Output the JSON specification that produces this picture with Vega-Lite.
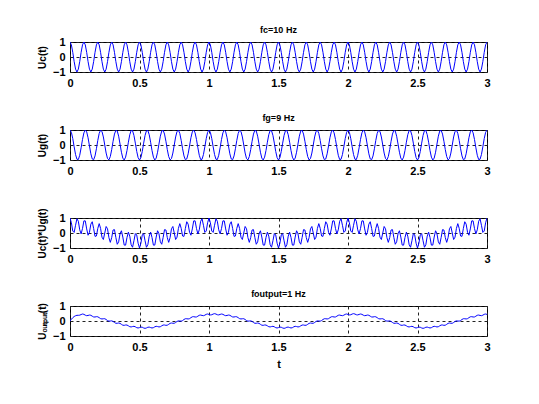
{
"$schema": "https://vega.github.io/schema/vega-lite/v6.json",
"background": "white",
"padding": {"left": 36, "top": 25, "right": 10, "bottom": 10},
"bounds": "flush",
"spacing": 58,
"config": {
  "font": "Liberation Sans",
  "view": {"stroke": "black", "strokeWidth": 1},
  "axis": {"labelFont": "Liberation Sans", "labelFontWeight": "bold", "labelFontSize": 11, "labelColor": "black", "titleFont": "Liberation Sans", "titleFontWeight": "bold", "titleColor": "black", "titleFontSize": 10, "domain": false, "ticks": false, "tickSize": 0, "labelPadding": 5, "grid": true, "gridColor": "#222222", "gridDash": [3, 3], "gridOpacity": 1, "gridWidth": 1, "labelFlush": false, "labelOverlap": false, "format": "~g"},
  "title": {"font": "Liberation Sans", "fontSize": 9, "fontWeight": "bold", "color": "black", "offset": 1}
},
"data": {"values": [
{"t":0,"uc":1,"ug":1,"um":1,"uo":0},
{"t":0.01,"uc":0.809,"ug":0.844,"um":0.683,"uo":0.12},
{"t":0.02,"uc":0.309,"ug":0.426,"um":0.132,"uo":0.22},
{"t":0.03,"uc":-0.309,"ug":-0.125,"um":0.039,"uo":0.3},
{"t":0.04,"uc":-0.809,"ug":-0.637,"um":0.515,"uo":0.35},
{"t":0.05,"uc":-1,"ug":-0.951,"um":0.951,"uo":0.38},
{"t":0.06,"uc":-0.809,"ug":-0.969,"um":0.784,"uo":0.38},
{"t":0.07,"uc":-0.309,"ug":-0.685,"um":0.212,"uo":0.39},
{"t":0.08,"uc":0.309,"ug":-0.187,"um":-0.058,"uo":0.43},
{"t":0.09,"uc":0.809,"ug":0.368,"um":0.298,"uo":0.466},
{"t":0.10,"uc":1,"ug":0.809,"um":0.809,"uo":0.444},
{"t":0.11,"uc":0.809,"ug":0.998,"um":0.807,"uo":0.388},
{"t":0.12,"uc":0.309,"ug":0.876,"um":0.271,"uo":0.354},
{"t":0.13,"uc":-0.309,"ug":0.482,"um":-0.149,"uo":0.37},
{"t":0.14,"uc":-0.809,"ug":-0.063,"um":0.051,"uo":0.396},
{"t":0.15,"uc":-1,"ug":-0.588,"um":0.588,"uo":0.381},
{"t":0.16,"uc":-0.809,"ug":-0.93,"um":0.752,"uo":0.321},
{"t":0.17,"uc":-0.309,"ug":-0.982,"um":0.303,"uo":0.269},
{"t":0.18,"uc":0.309,"ug":-0.729,"um":-0.225,"uo":0.266},
{"t":0.19,"uc":0.809,"ug":-0.249,"um":-0.201,"uo":0.289},
{"t":0.20,"uc":1,"ug":0.309,"um":0.309,"uo":0.28},
{"t":0.21,"uc":0.809,"ug":0.771,"um":0.624,"uo":0.222},
{"t":0.22,"uc":0.309,"ug":0.992,"um":0.307,"uo":0.157},
{"t":0.23,"uc":-0.309,"ug":0.905,"um":-0.28,"uo":0.135},
{"t":0.24,"uc":-0.809,"ug":0.536,"um":-0.434,"uo":0.151},
{"t":0.25,"uc":-1,"ug":0,"um":0,"uo":0.152},
{"t":0.26,"uc":-0.809,"ug":-0.536,"um":0.434,"uo":0.101},
{"t":0.27,"uc":-0.309,"ug":-0.905,"um":0.28,"uo":0.029},
{"t":0.28,"uc":0.309,"ug":-0.992,"um":-0.307,"uo":-0.009},
{"t":0.29,"uc":0.809,"ug":-0.771,"um":-0.624,"uo":0},
{"t":0.30,"uc":1,"ug":-0.309,"um":-0.309,"uo":0.009},
{"t":0.31,"uc":0.809,"ug":0.249,"um":0.201,"uo":-0.029},
{"t":0.32,"uc":0.309,"ug":0.729,"um":0.225,"uo":-0.101},
{"t":0.33,"uc":-0.309,"ug":0.982,"um":-0.303,"uo":-0.152},
{"t":0.34,"uc":-0.809,"ug":0.93,"um":-0.752,"uo":-0.151},
{"t":0.35,"uc":-1,"ug":0.588,"um":-0.588,"uo":-0.135},
{"t":0.36,"uc":-0.809,"ug":0.063,"um":-0.051,"uo":-0.157},
{"t":0.37,"uc":-0.309,"ug":-0.482,"um":0.149,"uo":-0.222},
{"t":0.38,"uc":0.309,"ug":-0.876,"um":-0.271,"uo":-0.28},
{"t":0.39,"uc":0.809,"ug":-0.998,"um":-0.807,"uo":-0.289},
{"t":0.40,"uc":1,"ug":-0.809,"um":-0.809,"uo":-0.266},
{"t":0.41,"uc":0.809,"ug":-0.368,"um":-0.298,"uo":-0.269},
{"t":0.42,"uc":0.309,"ug":0.187,"um":0.058,"uo":-0.321},
{"t":0.43,"uc":-0.309,"ug":0.685,"um":-0.212,"uo":-0.381},
{"t":0.44,"uc":-0.809,"ug":0.969,"um":-0.784,"uo":-0.396},
{"t":0.45,"uc":-1,"ug":0.951,"um":-0.951,"uo":-0.37},
{"t":0.46,"uc":-0.809,"ug":0.637,"um":-0.515,"uo":-0.354},
{"t":0.47,"uc":-0.309,"ug":0.125,"um":-0.039,"uo":-0.388},
{"t":0.48,"uc":0.309,"ug":-0.426,"um":-0.132,"uo":-0.444},
{"t":0.49,"uc":0.809,"ug":-0.844,"um":-0.683,"uo":-0.466},
{"t":0.50,"uc":1,"ug":-1,"um":-1,"uo":-0.439},
{"t":0.51,"uc":0.809,"ug":-0.844,"um":-0.683,"uo":-0.406},
{"t":0.52,"uc":0.309,"ug":-0.426,"um":-0.132,"uo":-0.417},
{"t":0.53,"uc":-0.309,"ug":0.125,"um":-0.039,"uo":-0.464},
{"t":0.54,"uc":-0.809,"ug":0.637,"um":-0.515,"uo":-0.49},
{"t":0.55,"uc":-1,"ug":0.951,"um":-0.951,"uo":-0.464},
{"t":0.56,"uc":-0.809,"ug":0.969,"um":-0.784,"uo":-0.417},
{"t":0.57,"uc":-0.309,"ug":0.685,"um":-0.212,"uo":-0.406},
{"t":0.58,"uc":0.309,"ug":0.187,"um":0.058,"uo":-0.439},
{"t":0.59,"uc":0.809,"ug":-0.368,"um":-0.298,"uo":-0.466},
{"t":0.60,"uc":1,"ug":-0.809,"um":-0.809,"uo":-0.444},
{"t":0.61,"uc":0.809,"ug":-0.998,"um":-0.807,"uo":-0.388},
{"t":0.62,"uc":0.309,"ug":-0.876,"um":-0.271,"uo":-0.354},
{"t":0.63,"uc":-0.309,"ug":-0.482,"um":0.149,"uo":-0.37},
{"t":0.64,"uc":-0.809,"ug":0.063,"um":-0.051,"uo":-0.396},
{"t":0.65,"uc":-1,"ug":0.588,"um":-0.588,"uo":-0.381},
{"t":0.66,"uc":-0.809,"ug":0.93,"um":-0.752,"uo":-0.321},
{"t":0.67,"uc":-0.309,"ug":0.982,"um":-0.303,"uo":-0.269},
{"t":0.68,"uc":0.309,"ug":0.729,"um":0.225,"uo":-0.266},
{"t":0.69,"uc":0.809,"ug":0.249,"um":0.201,"uo":-0.289},
{"t":0.70,"uc":1,"ug":-0.309,"um":-0.309,"uo":-0.28},
{"t":0.71,"uc":0.809,"ug":-0.771,"um":-0.624,"uo":-0.222},
{"t":0.72,"uc":0.309,"ug":-0.992,"um":-0.307,"uo":-0.157},
{"t":0.73,"uc":-0.309,"ug":-0.905,"um":0.28,"uo":-0.135},
{"t":0.74,"uc":-0.809,"ug":-0.536,"um":0.434,"uo":-0.151},
{"t":0.75,"uc":-1,"ug":0,"um":0,"uo":-0.152},
{"t":0.76,"uc":-0.809,"ug":0.536,"um":-0.434,"uo":-0.101},
{"t":0.77,"uc":-0.309,"ug":0.905,"um":-0.28,"uo":-0.029},
{"t":0.78,"uc":0.309,"ug":0.992,"um":0.307,"uo":0.009},
{"t":0.79,"uc":0.809,"ug":0.771,"um":0.624,"uo":0},
{"t":0.80,"uc":1,"ug":0.309,"um":0.309,"uo":-0.009},
{"t":0.81,"uc":0.809,"ug":-0.249,"um":-0.201,"uo":0.029},
{"t":0.82,"uc":0.309,"ug":-0.729,"um":-0.225,"uo":0.101},
{"t":0.83,"uc":-0.309,"ug":-0.982,"um":0.303,"uo":0.152},
{"t":0.84,"uc":-0.809,"ug":-0.93,"um":0.752,"uo":0.151},
{"t":0.85,"uc":-1,"ug":-0.588,"um":0.588,"uo":0.135},
{"t":0.86,"uc":-0.809,"ug":-0.063,"um":0.051,"uo":0.157},
{"t":0.87,"uc":-0.309,"ug":0.482,"um":-0.149,"uo":0.222},
{"t":0.88,"uc":0.309,"ug":0.876,"um":0.271,"uo":0.28},
{"t":0.89,"uc":0.809,"ug":0.998,"um":0.807,"uo":0.289},
{"t":0.90,"uc":1,"ug":0.809,"um":0.809,"uo":0.266},
{"t":0.91,"uc":0.809,"ug":0.368,"um":0.298,"uo":0.269},
{"t":0.92,"uc":0.309,"ug":-0.187,"um":-0.058,"uo":0.321},
{"t":0.93,"uc":-0.309,"ug":-0.685,"um":0.212,"uo":0.381},
{"t":0.94,"uc":-0.809,"ug":-0.969,"um":0.784,"uo":0.396},
{"t":0.95,"uc":-1,"ug":-0.951,"um":0.951,"uo":0.37},
{"t":0.96,"uc":-0.809,"ug":-0.637,"um":0.515,"uo":0.354},
{"t":0.97,"uc":-0.309,"ug":-0.125,"um":0.039,"uo":0.388},
{"t":0.98,"uc":0.309,"ug":0.426,"um":0.132,"uo":0.444},
{"t":0.99,"uc":0.809,"ug":0.844,"um":0.683,"uo":0.466},
{"t":1.00,"uc":1,"ug":1,"um":1,"uo":0.439},
{"t":1.01,"uc":0.809,"ug":0.844,"um":0.683,"uo":0.406},
{"t":1.02,"uc":0.309,"ug":0.426,"um":0.132,"uo":0.417},
{"t":1.03,"uc":-0.309,"ug":-0.125,"um":0.039,"uo":0.464},
{"t":1.04,"uc":-0.809,"ug":-0.637,"um":0.515,"uo":0.49},
{"t":1.05,"uc":-1,"ug":-0.951,"um":0.951,"uo":0.464},
{"t":1.06,"uc":-0.809,"ug":-0.969,"um":0.784,"uo":0.417},
{"t":1.07,"uc":-0.309,"ug":-0.685,"um":0.212,"uo":0.406},
{"t":1.08,"uc":0.309,"ug":-0.187,"um":-0.058,"uo":0.439},
{"t":1.09,"uc":0.809,"ug":0.368,"um":0.298,"uo":0.466},
{"t":1.10,"uc":1,"ug":0.809,"um":0.809,"uo":0.444},
{"t":1.11,"uc":0.809,"ug":0.998,"um":0.807,"uo":0.388},
{"t":1.12,"uc":0.309,"ug":0.876,"um":0.271,"uo":0.354},
{"t":1.13,"uc":-0.309,"ug":0.482,"um":-0.149,"uo":0.37},
{"t":1.14,"uc":-0.809,"ug":-0.063,"um":0.051,"uo":0.396},
{"t":1.15,"uc":-1,"ug":-0.588,"um":0.588,"uo":0.381},
{"t":1.16,"uc":-0.809,"ug":-0.93,"um":0.752,"uo":0.321},
{"t":1.17,"uc":-0.309,"ug":-0.982,"um":0.303,"uo":0.269},
{"t":1.18,"uc":0.309,"ug":-0.729,"um":-0.225,"uo":0.266},
{"t":1.19,"uc":0.809,"ug":-0.249,"um":-0.201,"uo":0.289},
{"t":1.20,"uc":1,"ug":0.309,"um":0.309,"uo":0.28},
{"t":1.21,"uc":0.809,"ug":0.771,"um":0.624,"uo":0.222},
{"t":1.22,"uc":0.309,"ug":0.992,"um":0.307,"uo":0.157},
{"t":1.23,"uc":-0.309,"ug":0.905,"um":-0.28,"uo":0.135},
{"t":1.24,"uc":-0.809,"ug":0.536,"um":-0.434,"uo":0.151},
{"t":1.25,"uc":-1,"ug":0,"um":0,"uo":0.152},
{"t":1.26,"uc":-0.809,"ug":-0.536,"um":0.434,"uo":0.101},
{"t":1.27,"uc":-0.309,"ug":-0.905,"um":0.28,"uo":0.029},
{"t":1.28,"uc":0.309,"ug":-0.992,"um":-0.307,"uo":-0.009},
{"t":1.29,"uc":0.809,"ug":-0.771,"um":-0.624,"uo":0},
{"t":1.30,"uc":1,"ug":-0.309,"um":-0.309,"uo":0.009},
{"t":1.31,"uc":0.809,"ug":0.249,"um":0.201,"uo":-0.029},
{"t":1.32,"uc":0.309,"ug":0.729,"um":0.225,"uo":-0.101},
{"t":1.33,"uc":-0.309,"ug":0.982,"um":-0.303,"uo":-0.152},
{"t":1.34,"uc":-0.809,"ug":0.93,"um":-0.752,"uo":-0.151},
{"t":1.35,"uc":-1,"ug":0.588,"um":-0.588,"uo":-0.135},
{"t":1.36,"uc":-0.809,"ug":0.063,"um":-0.051,"uo":-0.157},
{"t":1.37,"uc":-0.309,"ug":-0.482,"um":0.149,"uo":-0.222},
{"t":1.38,"uc":0.309,"ug":-0.876,"um":-0.271,"uo":-0.28},
{"t":1.39,"uc":0.809,"ug":-0.998,"um":-0.807,"uo":-0.289},
{"t":1.40,"uc":1,"ug":-0.809,"um":-0.809,"uo":-0.266},
{"t":1.41,"uc":0.809,"ug":-0.368,"um":-0.298,"uo":-0.269},
{"t":1.42,"uc":0.309,"ug":0.187,"um":0.058,"uo":-0.321},
{"t":1.43,"uc":-0.309,"ug":0.685,"um":-0.212,"uo":-0.381},
{"t":1.44,"uc":-0.809,"ug":0.969,"um":-0.784,"uo":-0.396},
{"t":1.45,"uc":-1,"ug":0.951,"um":-0.951,"uo":-0.37},
{"t":1.46,"uc":-0.809,"ug":0.637,"um":-0.515,"uo":-0.354},
{"t":1.47,"uc":-0.309,"ug":0.125,"um":-0.039,"uo":-0.388},
{"t":1.48,"uc":0.309,"ug":-0.426,"um":-0.132,"uo":-0.444},
{"t":1.49,"uc":0.809,"ug":-0.844,"um":-0.683,"uo":-0.466},
{"t":1.50,"uc":1,"ug":-1,"um":-1,"uo":-0.439},
{"t":1.51,"uc":0.809,"ug":-0.844,"um":-0.683,"uo":-0.406},
{"t":1.52,"uc":0.309,"ug":-0.426,"um":-0.132,"uo":-0.417},
{"t":1.53,"uc":-0.309,"ug":0.125,"um":-0.039,"uo":-0.464},
{"t":1.54,"uc":-0.809,"ug":0.637,"um":-0.515,"uo":-0.49},
{"t":1.55,"uc":-1,"ug":0.951,"um":-0.951,"uo":-0.464},
{"t":1.56,"uc":-0.809,"ug":0.969,"um":-0.784,"uo":-0.417},
{"t":1.57,"uc":-0.309,"ug":0.685,"um":-0.212,"uo":-0.406},
{"t":1.58,"uc":0.309,"ug":0.187,"um":0.058,"uo":-0.439},
{"t":1.59,"uc":0.809,"ug":-0.368,"um":-0.298,"uo":-0.466},
{"t":1.60,"uc":1,"ug":-0.809,"um":-0.809,"uo":-0.444},
{"t":1.61,"uc":0.809,"ug":-0.998,"um":-0.807,"uo":-0.388},
{"t":1.62,"uc":0.309,"ug":-0.876,"um":-0.271,"uo":-0.354},
{"t":1.63,"uc":-0.309,"ug":-0.482,"um":0.149,"uo":-0.37},
{"t":1.64,"uc":-0.809,"ug":0.063,"um":-0.051,"uo":-0.396},
{"t":1.65,"uc":-1,"ug":0.588,"um":-0.588,"uo":-0.381},
{"t":1.66,"uc":-0.809,"ug":0.93,"um":-0.752,"uo":-0.321},
{"t":1.67,"uc":-0.309,"ug":0.982,"um":-0.303,"uo":-0.269},
{"t":1.68,"uc":0.309,"ug":0.729,"um":0.225,"uo":-0.266},
{"t":1.69,"uc":0.809,"ug":0.249,"um":0.201,"uo":-0.289},
{"t":1.70,"uc":1,"ug":-0.309,"um":-0.309,"uo":-0.28},
{"t":1.71,"uc":0.809,"ug":-0.771,"um":-0.624,"uo":-0.222},
{"t":1.72,"uc":0.309,"ug":-0.992,"um":-0.307,"uo":-0.157},
{"t":1.73,"uc":-0.309,"ug":-0.905,"um":0.28,"uo":-0.135},
{"t":1.74,"uc":-0.809,"ug":-0.536,"um":0.434,"uo":-0.151},
{"t":1.75,"uc":-1,"ug":0,"um":0,"uo":-0.152},
{"t":1.76,"uc":-0.809,"ug":0.536,"um":-0.434,"uo":-0.101},
{"t":1.77,"uc":-0.309,"ug":0.905,"um":-0.28,"uo":-0.029},
{"t":1.78,"uc":0.309,"ug":0.992,"um":0.307,"uo":0.009},
{"t":1.79,"uc":0.809,"ug":0.771,"um":0.624,"uo":0},
{"t":1.80,"uc":1,"ug":0.309,"um":0.309,"uo":-0.009},
{"t":1.81,"uc":0.809,"ug":-0.249,"um":-0.201,"uo":0.029},
{"t":1.82,"uc":0.309,"ug":-0.729,"um":-0.225,"uo":0.101},
{"t":1.83,"uc":-0.309,"ug":-0.982,"um":0.303,"uo":0.152},
{"t":1.84,"uc":-0.809,"ug":-0.93,"um":0.752,"uo":0.151},
{"t":1.85,"uc":-1,"ug":-0.588,"um":0.588,"uo":0.135},
{"t":1.86,"uc":-0.809,"ug":-0.063,"um":0.051,"uo":0.157},
{"t":1.87,"uc":-0.309,"ug":0.482,"um":-0.149,"uo":0.222},
{"t":1.88,"uc":0.309,"ug":0.876,"um":0.271,"uo":0.28},
{"t":1.89,"uc":0.809,"ug":0.998,"um":0.807,"uo":0.289},
{"t":1.90,"uc":1,"ug":0.809,"um":0.809,"uo":0.266},
{"t":1.91,"uc":0.809,"ug":0.368,"um":0.298,"uo":0.269},
{"t":1.92,"uc":0.309,"ug":-0.187,"um":-0.058,"uo":0.321},
{"t":1.93,"uc":-0.309,"ug":-0.685,"um":0.212,"uo":0.381},
{"t":1.94,"uc":-0.809,"ug":-0.969,"um":0.784,"uo":0.396},
{"t":1.95,"uc":-1,"ug":-0.951,"um":0.951,"uo":0.37},
{"t":1.96,"uc":-0.809,"ug":-0.637,"um":0.515,"uo":0.354},
{"t":1.97,"uc":-0.309,"ug":-0.125,"um":0.039,"uo":0.388},
{"t":1.98,"uc":0.309,"ug":0.426,"um":0.132,"uo":0.444},
{"t":1.99,"uc":0.809,"ug":0.844,"um":0.683,"uo":0.466},
{"t":2.00,"uc":1,"ug":1,"um":1,"uo":0.439},
{"t":2.01,"uc":0.809,"ug":0.844,"um":0.683,"uo":0.406},
{"t":2.02,"uc":0.309,"ug":0.426,"um":0.132,"uo":0.417},
{"t":2.03,"uc":-0.309,"ug":-0.125,"um":0.039,"uo":0.464},
{"t":2.04,"uc":-0.809,"ug":-0.637,"um":0.515,"uo":0.49},
{"t":2.05,"uc":-1,"ug":-0.951,"um":0.951,"uo":0.464},
{"t":2.06,"uc":-0.809,"ug":-0.969,"um":0.784,"uo":0.417},
{"t":2.07,"uc":-0.309,"ug":-0.685,"um":0.212,"uo":0.406},
{"t":2.08,"uc":0.309,"ug":-0.187,"um":-0.058,"uo":0.439},
{"t":2.09,"uc":0.809,"ug":0.368,"um":0.298,"uo":0.466},
{"t":2.10,"uc":1,"ug":0.809,"um":0.809,"uo":0.444},
{"t":2.11,"uc":0.809,"ug":0.998,"um":0.807,"uo":0.388},
{"t":2.12,"uc":0.309,"ug":0.876,"um":0.271,"uo":0.354},
{"t":2.13,"uc":-0.309,"ug":0.482,"um":-0.149,"uo":0.37},
{"t":2.14,"uc":-0.809,"ug":-0.063,"um":0.051,"uo":0.396},
{"t":2.15,"uc":-1,"ug":-0.588,"um":0.588,"uo":0.381},
{"t":2.16,"uc":-0.809,"ug":-0.93,"um":0.752,"uo":0.321},
{"t":2.17,"uc":-0.309,"ug":-0.982,"um":0.303,"uo":0.269},
{"t":2.18,"uc":0.309,"ug":-0.729,"um":-0.225,"uo":0.266},
{"t":2.19,"uc":0.809,"ug":-0.249,"um":-0.201,"uo":0.289},
{"t":2.20,"uc":1,"ug":0.309,"um":0.309,"uo":0.28},
{"t":2.21,"uc":0.809,"ug":0.771,"um":0.624,"uo":0.222},
{"t":2.22,"uc":0.309,"ug":0.992,"um":0.307,"uo":0.157},
{"t":2.23,"uc":-0.309,"ug":0.905,"um":-0.28,"uo":0.135},
{"t":2.24,"uc":-0.809,"ug":0.536,"um":-0.434,"uo":0.151},
{"t":2.25,"uc":-1,"ug":0,"um":0,"uo":0.152},
{"t":2.26,"uc":-0.809,"ug":-0.536,"um":0.434,"uo":0.101},
{"t":2.27,"uc":-0.309,"ug":-0.905,"um":0.28,"uo":0.029},
{"t":2.28,"uc":0.309,"ug":-0.992,"um":-0.307,"uo":-0.009},
{"t":2.29,"uc":0.809,"ug":-0.771,"um":-0.624,"uo":0},
{"t":2.30,"uc":1,"ug":-0.309,"um":-0.309,"uo":0.009},
{"t":2.31,"uc":0.809,"ug":0.249,"um":0.201,"uo":-0.029},
{"t":2.32,"uc":0.309,"ug":0.729,"um":0.225,"uo":-0.101},
{"t":2.33,"uc":-0.309,"ug":0.982,"um":-0.303,"uo":-0.152},
{"t":2.34,"uc":-0.809,"ug":0.93,"um":-0.752,"uo":-0.151},
{"t":2.35,"uc":-1,"ug":0.588,"um":-0.588,"uo":-0.135},
{"t":2.36,"uc":-0.809,"ug":0.063,"um":-0.051,"uo":-0.157},
{"t":2.37,"uc":-0.309,"ug":-0.482,"um":0.149,"uo":-0.222},
{"t":2.38,"uc":0.309,"ug":-0.876,"um":-0.271,"uo":-0.28},
{"t":2.39,"uc":0.809,"ug":-0.998,"um":-0.807,"uo":-0.289},
{"t":2.40,"uc":1,"ug":-0.809,"um":-0.809,"uo":-0.266},
{"t":2.41,"uc":0.809,"ug":-0.368,"um":-0.298,"uo":-0.269},
{"t":2.42,"uc":0.309,"ug":0.187,"um":0.058,"uo":-0.321},
{"t":2.43,"uc":-0.309,"ug":0.685,"um":-0.212,"uo":-0.381},
{"t":2.44,"uc":-0.809,"ug":0.969,"um":-0.784,"uo":-0.396},
{"t":2.45,"uc":-1,"ug":0.951,"um":-0.951,"uo":-0.37},
{"t":2.46,"uc":-0.809,"ug":0.637,"um":-0.515,"uo":-0.354},
{"t":2.47,"uc":-0.309,"ug":0.125,"um":-0.039,"uo":-0.388},
{"t":2.48,"uc":0.309,"ug":-0.426,"um":-0.132,"uo":-0.444},
{"t":2.49,"uc":0.809,"ug":-0.844,"um":-0.683,"uo":-0.466},
{"t":2.50,"uc":1,"ug":-1,"um":-1,"uo":-0.439},
{"t":2.51,"uc":0.809,"ug":-0.844,"um":-0.683,"uo":-0.406},
{"t":2.52,"uc":0.309,"ug":-0.426,"um":-0.132,"uo":-0.417},
{"t":2.53,"uc":-0.309,"ug":0.125,"um":-0.039,"uo":-0.464},
{"t":2.54,"uc":-0.809,"ug":0.637,"um":-0.515,"uo":-0.49},
{"t":2.55,"uc":-1,"ug":0.951,"um":-0.951,"uo":-0.464},
{"t":2.56,"uc":-0.809,"ug":0.969,"um":-0.784,"uo":-0.417},
{"t":2.57,"uc":-0.309,"ug":0.685,"um":-0.212,"uo":-0.406},
{"t":2.58,"uc":0.309,"ug":0.187,"um":0.058,"uo":-0.439},
{"t":2.59,"uc":0.809,"ug":-0.368,"um":-0.298,"uo":-0.466},
{"t":2.60,"uc":1,"ug":-0.809,"um":-0.809,"uo":-0.444},
{"t":2.61,"uc":0.809,"ug":-0.998,"um":-0.807,"uo":-0.388},
{"t":2.62,"uc":0.309,"ug":-0.876,"um":-0.271,"uo":-0.354},
{"t":2.63,"uc":-0.309,"ug":-0.482,"um":0.149,"uo":-0.37},
{"t":2.64,"uc":-0.809,"ug":0.063,"um":-0.051,"uo":-0.396},
{"t":2.65,"uc":-1,"ug":0.588,"um":-0.588,"uo":-0.381},
{"t":2.66,"uc":-0.809,"ug":0.93,"um":-0.752,"uo":-0.321},
{"t":2.67,"uc":-0.309,"ug":0.982,"um":-0.303,"uo":-0.269},
{"t":2.68,"uc":0.309,"ug":0.729,"um":0.225,"uo":-0.266},
{"t":2.69,"uc":0.809,"ug":0.249,"um":0.201,"uo":-0.289},
{"t":2.70,"uc":1,"ug":-0.309,"um":-0.309,"uo":-0.28},
{"t":2.71,"uc":0.809,"ug":-0.771,"um":-0.624,"uo":-0.222},
{"t":2.72,"uc":0.309,"ug":-0.992,"um":-0.307,"uo":-0.157},
{"t":2.73,"uc":-0.309,"ug":-0.905,"um":0.28,"uo":-0.135},
{"t":2.74,"uc":-0.809,"ug":-0.536,"um":0.434,"uo":-0.151},
{"t":2.75,"uc":-1,"ug":0,"um":0,"uo":-0.152},
{"t":2.76,"uc":-0.809,"ug":0.536,"um":-0.434,"uo":-0.101},
{"t":2.77,"uc":-0.309,"ug":0.905,"um":-0.28,"uo":-0.029},
{"t":2.78,"uc":0.309,"ug":0.992,"um":0.307,"uo":0.009},
{"t":2.79,"uc":0.809,"ug":0.771,"um":0.624,"uo":0},
{"t":2.80,"uc":1,"ug":0.309,"um":0.309,"uo":-0.009},
{"t":2.81,"uc":0.809,"ug":-0.249,"um":-0.201,"uo":0.029},
{"t":2.82,"uc":0.309,"ug":-0.729,"um":-0.225,"uo":0.101},
{"t":2.83,"uc":-0.309,"ug":-0.982,"um":0.303,"uo":0.152},
{"t":2.84,"uc":-0.809,"ug":-0.93,"um":0.752,"uo":0.151},
{"t":2.85,"uc":-1,"ug":-0.588,"um":0.588,"uo":0.135},
{"t":2.86,"uc":-0.809,"ug":-0.063,"um":0.051,"uo":0.157},
{"t":2.87,"uc":-0.309,"ug":0.482,"um":-0.149,"uo":0.222},
{"t":2.88,"uc":0.309,"ug":0.876,"um":0.271,"uo":0.28},
{"t":2.89,"uc":0.809,"ug":0.998,"um":0.807,"uo":0.289},
{"t":2.90,"uc":1,"ug":0.809,"um":0.809,"uo":0.266},
{"t":2.91,"uc":0.809,"ug":0.368,"um":0.298,"uo":0.269},
{"t":2.92,"uc":0.309,"ug":-0.187,"um":-0.058,"uo":0.321},
{"t":2.93,"uc":-0.309,"ug":-0.685,"um":0.212,"uo":0.381},
{"t":2.94,"uc":-0.809,"ug":-0.969,"um":0.784,"uo":0.396},
{"t":2.95,"uc":-1,"ug":-0.951,"um":0.951,"uo":0.37},
{"t":2.96,"uc":-0.809,"ug":-0.637,"um":0.515,"uo":0.354},
{"t":2.97,"uc":-0.309,"ug":-0.125,"um":0.039,"uo":0.388},
{"t":2.98,"uc":0.309,"ug":0.426,"um":0.132,"uo":0.444},
{"t":2.99,"uc":0.809,"ug":0.844,"um":0.683,"uo":0.466},
{"t":3.00,"uc":1,"ug":1,"um":1,"uo":0.439}
]},
"vconcat": [
  {
    "width": 417, "height": 30,
    "title": "fc=10 Hz",
    "mark": {"type": "line", "color": "#0000ff", "strokeWidth": 1, "clip": true},
    "encoding": {
      "x": {"field": "t", "type": "quantitative", "scale": {"domain": [0, 3], "nice": false, "zero": false}, "axis": {"values": [0, 0.5, 1, 1.5, 2, 2.5, 3], "format": "~g", "title": null}},
      "y": {"field": "uc", "type": "quantitative", "scale": {"domain": [-1, 1], "nice": false}, "axis": {"values": [-1, 0, 1], "format": "~g", "title": "Uc(t)", "titlePadding": 5}}
    }
  },
  {
    "width": 417, "height": 30,
    "title": "fg=9  Hz",
    "mark": {"type": "line", "color": "#0000ff", "strokeWidth": 1, "clip": true},
    "encoding": {
      "x": {"field": "t", "type": "quantitative", "scale": {"domain": [0, 3], "nice": false, "zero": false}, "axis": {"values": [0, 0.5, 1, 1.5, 2, 2.5, 3], "format": "~g", "title": null}},
      "y": {"field": "ug", "type": "quantitative", "scale": {"domain": [-1, 1], "nice": false}, "axis": {"values": [-1, 0, 1], "format": "~g", "title": "Ug(t)", "titlePadding": 5}}
    }
  },
  {
    "width": 417, "height": 30,
    "mark": {"type": "line", "color": "#0000ff", "strokeWidth": 1, "clip": true},
    "encoding": {
      "x": {"field": "t", "type": "quantitative", "scale": {"domain": [0, 3], "nice": false, "zero": false}, "axis": {"values": [0, 0.5, 1, 1.5, 2, 2.5, 3], "format": "~g", "title": null}},
      "y": {"field": "um", "type": "quantitative", "scale": {"domain": [-1, 1], "nice": false}, "axis": {"values": [-1, 0, 1], "format": "~g", "title": "Uc(t)*Ug(t)", "titlePadding": 5}}
    }
  },
  {
    "width": 417, "height": 30,
    "title": "foutput=1  Hz",
    "mark": {"type": "line", "color": "#0000ff", "strokeWidth": 1, "clip": true},
    "encoding": {
      "x": {"field": "t", "type": "quantitative", "scale": {"domain": [0, 3], "nice": false, "zero": false}, "axis": {"values": [0, 0.5, 1, 1.5, 2, 2.5, 3], "format": "~g", "title": "t", "titleFontSize": 11, "titlePadding": 6}},
      "y": {"field": "uo", "type": "quantitative", "scale": {"domain": [-1, 1], "nice": false}, "axis": {"values": [-1, 0, 1], "format": "~g", "title": "Uₒᵤₜₚᵤₜ(t)", "titlePadding": 5}}
    }
  }
]
}
